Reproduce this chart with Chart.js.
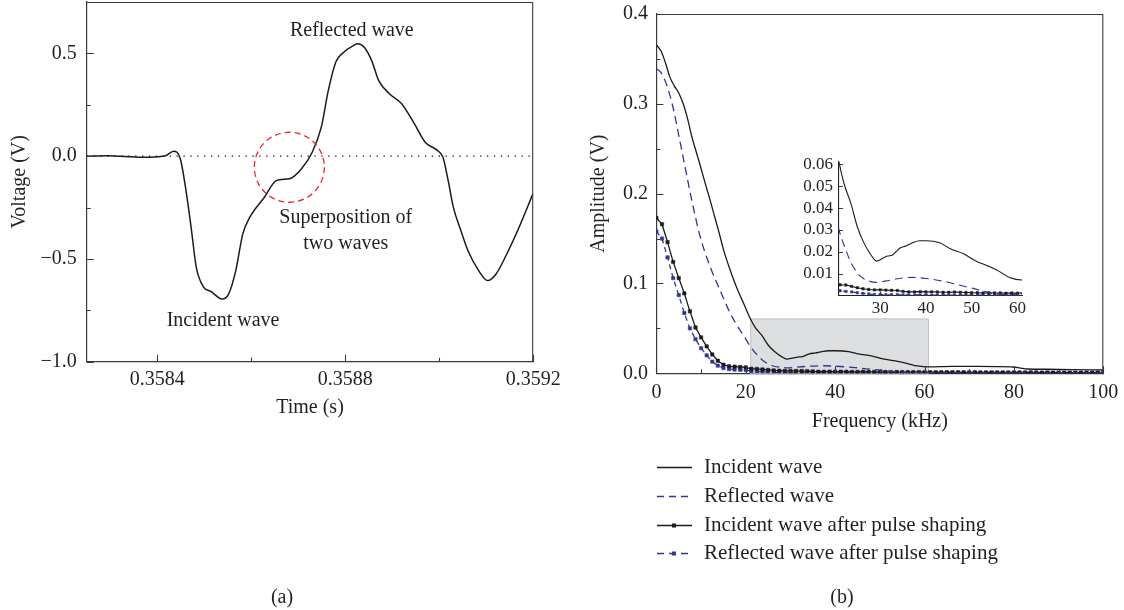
<!DOCTYPE html>
<html>
<head>
<meta charset="utf-8">
<script src="https://cdn.jsdelivr.net/npm/chart.js@4.4.1/dist/chart.umd.min.js"></script>
<style>
  html, body { margin: 0; padding: 0; background: #ffffff; }
  #wrap { position: relative; width: 1124px; height: 610px; overflow: hidden; }
  #wrap canvas { position: absolute; left: 0; top: 0; width: 1124px; height: 610px; }
</style>
</head>
<body>
<div id="wrap">
  <canvas id="waveA" width="1124" height="610"></canvas>
  <canvas id="spectrumB" width="1124" height="610"></canvas>
  <canvas id="zoomB" width="1124" height="610"></canvas>
</div>
<script>
// ---------- (a) voltage signal in the time domain ----------
const timeS = [0.35825, 0.358293, 0.358369, 0.358416, 0.358435, 0.358449, 0.35846, 0.358472, 0.358483,
  0.358499, 0.358514, 0.358538, 0.358552, 0.358567, 0.358582, 0.358597, 0.358628, 0.358654, 0.358681,
  0.358707, 0.35873, 0.358749, 0.358764, 0.35878, 0.358795, 0.358818, 0.358827, 0.35884, 0.358856,
  0.358871, 0.358894, 0.35892, 0.358947, 0.35897, 0.358996, 0.359008, 0.359019, 0.35903, 0.359046,
  0.359061, 0.359084, 0.359103, 0.359121, 0.359144, 0.359167, 0.3592];
const voltageV = [0, 0.002, -0.005, 0.001, 0.024, -0.013, -0.151, -0.346, -0.541,
  -0.638, -0.658, -0.695, -0.670, -0.557, -0.378, -0.297, -0.200, -0.118, -0.110,
  -0.061, 0.020, 0.141, 0.320, 0.458, 0.502, 0.539, 0.547, 0.531, 0.466,
  0.369, 0.304, 0.255, 0.158, 0.068, 0.028, -0.005, -0.118, -0.248, -0.362,
  -0.459, -0.557, -0.605, -0.573, -0.475, -0.362, -0.180];
const timeTicks = [0.3584, 0.3588, 0.3592];
const voltageTicks = [-1.0, -0.5, 0.0, 0.5];
const waveNotes = [
  { text: 'Reflected wave', t: 0.358814, v: 0.609 },
  { text: 'Superposition of', t: 0.358801, v: -0.299 },
  { text: 'two waves', t: 0.358801, v: -0.425 },
  { text: 'Incident wave', t: 0.358540, v: -0.800 }
];
const overlapMark = { t: 0.358681, v: -0.054 };

// ---------- (b) amplitude spectra ----------
const incFreq = [0, 1, 2, 3, 4, 5, 6, 7, 8, 9, 10, 11, 12, 13, 14, 15, 16.5, 18, 19.5, 21, 22.1, 23.6,
  25.0, 26.5, 28.0, 29.2, 30.5, 31.6, 32.7, 34.2, 35.6, 37.1, 38.6, 40.0, 43.0, 45.2, 48.1, 51.0, 54.0,
  56.2, 58.4, 61.0, 66, 72, 76, 79.8, 81.5, 83, 87, 93, 100];
const incAmp = [0.3655, 0.359, 0.346, 0.330, 0.320, 0.312, 0.300, 0.283, 0.262, 0.245, 0.228, 0.210,
  0.193, 0.175, 0.157, 0.138, 0.115, 0.095, 0.078, 0.061, 0.0512, 0.0421, 0.0315, 0.0239, 0.0186,
  0.0158, 0.0170, 0.0181, 0.0186, 0.0216, 0.0227, 0.0242, 0.0251, 0.0251, 0.0242, 0.0216, 0.0193,
  0.0158, 0.0132, 0.0109, 0.0082, 0.0072, 0.0078, 0.0076, 0.0074, 0.0070, 0.0058, 0.0048, 0.0045,
  0.0040, 0.0037];
const refFreq = [0, 1, 2, 3, 4, 5, 6, 7, 7.9, 9.8, 12, 14.2, 16.5, 18.7, 19.4, 21, 22.5, 23.9, 25.8,
  27.6, 29.1, 31.3, 34.2, 37.1, 40.0, 44.4, 47.0, 50.3, 54.7, 57.6, 61, 70, 80, 90, 100];
const refAmp = [0.339, 0.335, 0.325, 0.310, 0.290, 0.265, 0.240, 0.215, 0.193, 0.152, 0.119, 0.093,
  0.067, 0.048, 0.043, 0.030, 0.0208, 0.0140, 0.0087, 0.0067, 0.0061, 0.0068, 0.0079, 0.0084, 0.0079,
  0.0064, 0.0050, 0.0034, 0.0011, 0.0006, 0.0005, 0.0005, 0.0004, 0.0004, 0.0004];
const shapedFreq = [0, 1.25, 2.5, 3.75, 5, 6.25, 7.5, 8.75, 10, 11.25,
  12.5, 13.75, 15, 16.25, 17.5, 18.75, 20, 21.25, 22.5, 23.75,
  25, 26.25, 27.5, 28.75, 30, 31.25, 32.5, 33.75, 35, 36.25,
  37.5, 38.75, 40, 41.25, 42.5, 43.75, 45, 46.25, 47.5, 48.75,
  50, 51.25, 52.5, 53.75, 55, 56.25, 57.5, 58.75, 60, 61.25,
  62.5, 63.75, 65, 66.25, 67.5, 68.75, 70, 71.25, 72.5, 73.75,
  75, 76.25, 77.5, 78.75, 80, 81.25, 82.5, 83.75, 85, 86.25,
  87.5, 88.75, 90, 91.25, 92.5, 93.75, 95, 96.25, 97.5, 98.75, 100];
const incShapedAmp = [0.173, 0.166, 0.146, 0.124, 0.106, 0.089, 0.069, 0.051, 0.040, 0.030,
  0.021, 0.014, 0.0095, 0.0078, 0.0074, 0.0070, 0.0066, 0.0050, 0.0049, 0.0043,
  0.0037, 0.0032, 0.0029, 0.0027, 0.0027, 0.0026, 0.0025, 0.0024, 0.0020, 0.0018,
  0.0018, 0.0019, 0.0018, 0.0018, 0.0017, 0.0016, 0.0016, 0.0017, 0.0016, 0.0015,
  0.0014, 0.0014, 0.0013, 0.0014, 0.0013, 0.0013, 0.0012, 0.0013, 0.0012, 0.0012,
  0.0012, 0.0011, 0.0012, 0.0011, 0.0011, 0.0011, 0.0010, 0.0011, 0.0010, 0.0010,
  0.0010, 0.0010, 0.0010, 0.0009, 0.0010, 0.0009, 0.0009, 0.0009, 0.0009, 0.0008,
  0.0009, 0.0008, 0.0008, 0.0008, 0.0008, 0.0008, 0.0007, 0.0008, 0.0007, 0.0007, 0.0007];
const refShapedAmp = [0.158, 0.150, 0.129, 0.106, 0.087, 0.067, 0.050, 0.038, 0.028, 0.020,
  0.013, 0.0085, 0.0058, 0.0047, 0.0042, 0.0039, 0.0036, 0.0023, 0.0020, 0.0018,
  0.0014, 0.0011, 0.0008, 0.0006, 0.0006, 0.0005, 0.0005, 0.0005, 0.0004, 0.0004,
  0.0004, 0.0004, 0.0004, 0.0003, 0.0003, 0.0004, 0.0003, 0.0003, 0.0003, 0.0003,
  0.0003, 0.0003, 0.0004, 0.0003, 0.0003, 0.0003, 0.0003, 0.0003, 0.0003, 0.0003,
  0.0003, 0.0003, 0.0003, 0.0002, 0.0003, 0.0003, 0.0003, 0.0003, 0.0002, 0.0003,
  0.0003, 0.0003, 0.0002, 0.0003, 0.0003, 0.0002, 0.0003, 0.0003, 0.0002, 0.0002,
  0.0003, 0.0002, 0.0002, 0.0003, 0.0002, 0.0002, 0.0002, 0.0002, 0.0002, 0.0002, 0.0002];
const seriesNames = ['Incident wave', 'Reflected wave', 'Incident wave after pulse shaping',
  'Reflected wave after pulse shaping'];
const freqTicks = [0, 20, 40, 60, 80, 100];
const ampTicks = [0, 0.1, 0.2, 0.3, 0.4];
const zoomFreqRange = [21, 61];
const zoomAmpMax = 0.061;
const zoomFreqTicks = [30, 40, 50, 60];
const zoomAmpTicks = [0.01, 0.02, 0.03, 0.04, 0.05, 0.06];

// ---------- shared look ----------
const SERIF = "'Liberation Serif', 'Times New Roman', serif";
const INK = '#231f20';
const AXIS = '#3a3a3a';
const BLACK = '#1b1b1b';
const BLUE = '#31349a';
Chart.defaults.font.family = SERIF;
Chart.defaults.font.size = 20;
Chart.defaults.color = INK;
Chart.defaults.animation = false;

const pairs = (xs, ys) => xs.map((x, i) => ({ x, y: ys[i] }));
const fixTicks = vals => scale => { scale.ticks = vals.map(v => ({ value: v })); };
const fixWidth = w => s => { s.width = w; s.paddingTop = 0; s.paddingBottom = 0; };
const fixHeight = h => s => { s.height = h; s.paddingLeft = 0; s.paddingRight = 0; };

// inward tick marks (major at labelled ticks, minor halfway) plus closing frame
function drawFrameTicks(chart, opts) {
  const { ctx, chartArea: a } = chart;
  ctx.save();
  ctx.strokeStyle = AXIS;
  ctx.lineWidth = 1.1;
  ctx.setLineDash([]);
  if (opts.frame) {
    ctx.beginPath();
    ctx.moveTo(a.left, a.top + 0.5); ctx.lineTo(a.right, a.top + 0.5);
    ctx.moveTo(a.right - 0.5, a.top); ctx.lineTo(a.right - 0.5, a.bottom);
    ctx.stroke();
  }
  ['x', 'y'].forEach(id => {
    const s = chart.scales[id];
    const vals = s.ticks.map(t => t.value);
    const marks = vals.map(v => [v, opts.major]);
    if (opts.minor && vals.length > 1) {
      const step = vals[1] - vals[0];
      for (let v = vals[0] - step / 2; v < s.max; v += step) {
        if (v > s.min + 1e-12 && v < s.max - 1e-12) marks.push([v, opts.minor]);
      }
    }
    ctx.beginPath();
    marks.forEach(([v, len]) => {
      const p = Math.round(s.getPixelForValue(v)) + 0.5;
      if (id === 'x') { ctx.moveTo(p, a.bottom); ctx.lineTo(p, a.bottom - len); }
      else { ctx.moveTo(a.left, p); ctx.lineTo(a.left + len, p); }
    });
    ctx.stroke();
  });
  ctx.restore();
}

// ---------- chart (a) ----------
const waveDecor = {
  id: 'waveDecor',
  beforeDatasetsDraw(chart) {
    const { ctx, chartArea: a, scales: { y } } = chart;
    const py = y.getPixelForValue(0);
    ctx.save();
    ctx.strokeStyle = '#111';
    ctx.lineWidth = 1.3;
    ctx.setLineDash([1.3, 5.6]);
    ctx.beginPath(); ctx.moveTo(a.left, py); ctx.lineTo(a.right, py); ctx.stroke();
    ctx.restore();
  },
  afterDraw(chart) {
    const { ctx, scales: { x, y } } = chart;
    drawFrameTicks(chart, { frame: true, major: 7, minor: 4 });
    ctx.save();
    ctx.strokeStyle = '#e8262d';
    ctx.lineWidth = 1.3;
    ctx.setLineDash([6, 4]);
    ctx.beginPath();
    ctx.arc(x.getPixelForValue(overlapMark.t), y.getPixelForValue(overlapMark.v), 35, 0, Math.PI * 2);
    ctx.stroke();
    ctx.setLineDash([]);
    ctx.fillStyle = INK;
    ctx.font = '20px ' + SERIF;
    ctx.textAlign = 'center';
    ctx.textBaseline = 'middle';
    waveNotes.forEach(n => ctx.fillText(n.text, x.getPixelForValue(n.t), y.getPixelForValue(n.v)));
    ctx.fillText('(a)', 282, 598);
    ctx.restore();
  }
};

new Chart(document.getElementById('waveA'), {
  type: 'line',
  data: {
    datasets: [{
      label: 'Voltage',
      data: pairs(timeS, voltageV),
      borderColor: BLACK,
      borderWidth: 1.5,
      pointRadius: 0,
      cubicInterpolationMode: 'monotone',
      fill: false
    }]
  },
  options: {
    responsive: false,
    devicePixelRatio: 1,
    layout: { padding: { left: 0, top: 2, right: 590.8, bottom: 190 } },
    plugins: { legend: { display: false }, tooltip: { enabled: false } },
    scales: {
      x: {
        type: 'linear', min: 0.35825, max: 0.3592,
        afterBuildTicks: fixTicks(timeTicks),
        afterFit: fixHeight(58.3),
        grid: { display: false, drawTicks: false },
        border: { display: true, color: AXIS, width: 1.2 },
        ticks: { padding: 6, autoSkip: false, maxRotation: 0, callback: v => v.toFixed(4) },
        title: { display: true, text: 'Time (s)', padding: { top: 0, bottom: 0 } }
      },
      y: {
        type: 'linear', min: -1, max: 0.75,
        afterBuildTicks: fixTicks(voltageTicks),
        afterFit: fixWidth(86.8),
        grid: { display: false, drawTicks: false },
        border: { display: true, color: AXIS, width: 1.2 },
        ticks: { padding: 10, callback: v => v.toFixed(1).replace('-', '\u2212') },
        title: { display: true, text: 'Voltage (V)', padding: { top: 8, bottom: 0 } }
      }
    }
  },
  plugins: [waveDecor]
});

// ---------- chart (b) ----------
const spectrumDatasets = () => [
  { label: seriesNames[0], data: pairs(incFreq, incAmp), borderColor: BLACK, borderWidth: 1.3,
    pointRadius: 0, cubicInterpolationMode: 'monotone' },
  { label: seriesNames[1], data: pairs(refFreq, refAmp), borderColor: BLUE, borderWidth: 1.3,
    borderDash: [8, 5], pointRadius: 0, cubicInterpolationMode: 'monotone' },
  { label: seriesNames[2], data: pairs(shapedFreq, incShapedAmp), borderColor: BLACK, borderWidth: 1.3,
    pointStyle: 'rect', pointRadius: 2.4, pointBackgroundColor: BLACK, pointBorderColor: BLACK,
    pointBorderWidth: 0.5, tension: 0 },
  { label: seriesNames[3], data: pairs(shapedFreq, refShapedAmp), borderColor: BLUE, borderWidth: 1.3,
    borderDash: [5, 4], pointStyle: 'rect', pointRadius: 2.4, pointBackgroundColor: BLUE,
    pointBorderColor: BLUE, pointBorderWidth: 0.5, tension: 0 }
];

const spectrumDecor = {
  id: 'spectrumDecor',
  beforeDatasetsDraw(chart) {
    const { ctx, scales: { x, y } } = chart;
    const x0 = x.getPixelForValue(zoomFreqRange[0]), x1 = x.getPixelForValue(zoomFreqRange[1]);
    const y0 = y.getPixelForValue(0), y1 = y.getPixelForValue(zoomAmpMax);
    ctx.save();
    ctx.fillStyle = '#dddee0';
    ctx.strokeStyle = '#c3c4c7';
    ctx.lineWidth = 1;
    ctx.fillRect(x0, y1, x1 - x0, y0 - y1);
    ctx.strokeRect(x0 + 0.5, y1 + 0.5, x1 - x0 - 1, y0 - y1);
    ctx.restore();
  },
  afterDraw(chart) {
    const { ctx } = chart;
    drawFrameTicks(chart, { frame: true, major: 7, minor: 4 });
    // legend under the axes
    const rows = [467, 496, 525, 553];
    ctx.save();
    ctx.font = '21px ' + SERIF;
    ctx.textBaseline = 'middle';
    ctx.textAlign = 'left';
    chart.data.datasets.forEach((ds, i) => {
      const yy = rows[i] + 0.5;
      ctx.strokeStyle = ds.borderColor;
      ctx.lineWidth = 1.4;
      ctx.setLineDash(ds.borderDash ? [7, 5] : []);
      ctx.beginPath(); ctx.moveTo(657, yy); ctx.lineTo(692, yy); ctx.stroke();
      if (ds.pointRadius) {
        ctx.fillStyle = ds.pointBackgroundColor;
        ctx.fillRect(672, yy - 2, 4, 4);
      }
      ctx.fillStyle = INK;
      ctx.fillText(ds.label, 704, rows[i]);
    });
    ctx.textAlign = 'center';
    ctx.font = '20px ' + SERIF;
    ctx.fillText('(b)', 842, 598);
    ctx.restore();
  }
};

new Chart(document.getElementById('spectrumB'), {
  type: 'line',
  data: { datasets: spectrumDatasets() },
  options: {
    responsive: false,
    devicePixelRatio: 1,
    layout: { padding: { left: 580, top: 14, right: 20.7, bottom: 176 } },
    plugins: { legend: { display: false }, tooltip: { enabled: false } },
    scales: {
      x: {
        type: 'linear', min: 0, max: 100,
        afterBuildTicks: fixTicks(freqTicks),
        afterFit: fixHeight(60.7),
        grid: { display: false, drawTicks: false },
        border: { display: true, color: AXIS, width: 1.2 },
        ticks: { padding: 7.7, autoSkip: false, maxRotation: 0, callback: v => String(v) },
        title: { display: true, text: 'Frequency (kHz)', padding: { top: 0, bottom: 0 } }
      },
      y: {
        type: 'linear', min: 0, max: 0.4,
        afterBuildTicks: fixTicks(ampTicks),
        afterFit: fixWidth(76.4),
        grid: { display: false, drawTicks: false },
        border: { display: true, color: AXIS, width: 1.2 },
        ticks: { padding: 8.5, callback: v => v.toFixed(1) },
        title: { display: true, text: 'Amplitude (V)', padding: { top: 7, bottom: 0 } }
      }
    }
  },
  plugins: [spectrumDecor]
});

// ---------- inset: magnified 21–61 kHz ----------
const zoomDecor = {
  id: 'zoomDecor',
  afterDraw(chart) { drawFrameTicks(chart, { frame: false, major: 4, minor: 0 }); }
};

const zoomSets = spectrumDatasets();
zoomSets.forEach(ds => { ds.borderWidth = 1.1; if (ds.pointRadius) ds.pointRadius = 1.7; });

new Chart(document.getElementById('zoomB'), {
  type: 'line',
  data: { datasets: zoomSets },
  options: {
    responsive: false,
    devicePixelRatio: 1,
    layout: { padding: { left: 789, top: 162, right: 102, bottom: 294.2 } },
    plugins: { legend: { display: false }, tooltip: { enabled: false } },
    scales: {
      x: {
        type: 'linear', min: zoomFreqRange[0], max: zoomFreqRange[1],
        afterBuildTicks: fixTicks(zoomFreqTicks),
        afterFit: fixHeight(20),
        grid: { display: false, drawTicks: false },
        border: { display: true, color: '#222', width: 1.1 },
        ticks: { padding: 2.3, autoSkip: false, maxRotation: 0, font: { size: 17 }, callback: v => String(v) }
      },
      y: {
        type: 'linear', min: 0, max: zoomAmpMax,
        afterBuildTicks: fixTicks(zoomAmpTicks),
        afterFit: fixWidth(50),
        grid: { display: false, drawTicks: false },
        border: { display: true, color: '#222', width: 1.1 },
        ticks: { padding: 6, font: { size: 17 }, callback: v => v.toFixed(2) }
      }
    }
  },
  plugins: [zoomDecor]
});
</script>
</body>
</html>
